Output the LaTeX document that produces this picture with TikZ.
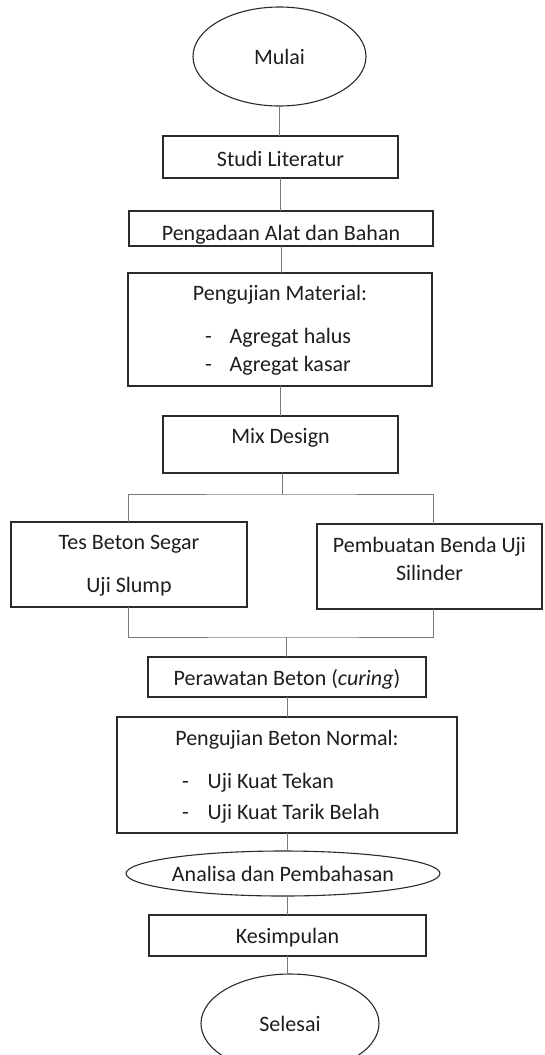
\documentclass[tikz,border=0pt]{standalone}
\usepackage{fontspec}
\setmainfont{Carlito}
\usepackage{tikz}
\usetikzlibrary{calc,positioning,shapes.geometric}
\definecolor{ink}{HTML}{1E1E1E}
\definecolor{edge}{HTML}{2B2B2B}
\definecolor{wire}{HTML}{7A7A7A}
\tikzset{
  font=\fontsize{22pt}{28pt}\selectfont,
  box/.style={
    draw=edge, line width=1.1pt, fill=white, text=ink,
    align=center, inner sep=0pt, outer sep=0pt
  },
  terminal/.style={ellipse, draw=edge, line width=1.1pt, fill=white, text=ink, inner sep=0pt, outer sep=0pt},
  link/.style={draw=wire, line width=0.9pt}
}

\begin{document}
\begin{tikzpicture}[node distance=30pt]
  \useasboundingbox (0,0) rectangle (544pt,-1055pt);

  \node[terminal, minimum width=173pt, minimum height=99pt] (mulai) at (279.5pt,-56.5pt) {Mulai};
  \node[box, minimum width=235pt, text height=30pt, text depth=12pt, below=30pt of mulai, xshift=1pt] (studi) {Studi Literatur};
  \node[box, minimum width=304pt, text height=29pt, text depth=6pt, below=33pt of studi, xshift=0.5pt] (pengadaan) {Pengadaan Alat dan Bahan};
  \node[box, minimum width=304pt, text height=98pt, text depth=15pt, below=27pt of pengadaan, xshift=-1pt] (material) {Pengujian Material:\\[15pt]\makebox[150pt][l]{-\hspace{18pt}Agregat halus}\\\makebox[150pt][l]{-\hspace{18pt}Agregat kasar}};
  \node[box, minimum width=235pt, text height=27pt, text depth=30pt, below=30pt of material, xshift=0.5pt] (mix) {Mix Design};

  \node[box, minimum width=236pt, text height=70pt, text depth=15pt, below=49pt of mix, xshift=-151.5pt] (tes) {Tes Beton Segar\\[15pt]Uji Slump};
  \node[box, minimum width=225pt, text height=56pt, text depth=29pt, below=51pt of mix, xshift=149pt] (silinder) {Pembuatan Benda Uji\\Silinder};

  \node[box, minimum width=278pt, text height=28pt, text depth=12pt, below=184pt of mix, xshift=6.5pt] (perawatan) {Perawatan Beton (\textit{curing})};
  \node[box, minimum width=340pt, text height=102pt, text depth=14pt, below=20pt of perawatan] (beton) {Pengujian Beton Normal:\\[15pt]\makebox[210pt][l]{-\hspace{19pt}Uji Kuat Tekan}\\[3pt]\makebox[210pt][l]{-\hspace{19pt}Uji Kuat Tarik Belah}};
  \node[terminal, minimum width=310pt, minimum height=45pt, below=18pt of beton, xshift=-4pt] (analisa) {Analisa dan Pembahasan};
  \node[box, minimum width=277pt, text height=28pt, text depth=13pt, below=19pt of analisa, xshift=4.5pt] (kesimpulan) {Kesimpulan};
  \node[terminal, minimum width=178pt, minimum height=99pt, below=18pt of kesimpulan, xshift=2.5pt] (selesai) {Selesai};

  \coordinate (split) at ($(mix.south)+(1.5pt,-21pt)$);
  \coordinate (join) at ($(perawatan.north)+(-1pt,20pt)$);

  \draw[link] (mulai.south) -- (mulai.south |- studi.north);
  \draw[link] (studi.south) -- (studi.south |- pengadaan.north);
  \draw[link] (pengadaan.south) -- (pengadaan.south |- material.north);
  \draw[link] (material.south) -- (material.south |- mix.north);
  \draw[link] (mix.south -| split) -- (split);
  \draw[link] ([xshift=-1pt]tes.north) |- (split) -| ([xshift=3.5pt]silinder.north);
  \draw[link] ([xshift=-1pt]tes.south) |- (join) -| ([xshift=3.5pt]silinder.south);
  \draw[link] (join) -- (join |- perawatan.north);
  \draw[link] (perawatan.south) -- (perawatan.south |- beton.north);
  \draw[link] (beton.south) -- (beton.south |- analisa.north);
  \draw[link] (kesimpulan.north |- analisa.south) -- (kesimpulan.north);
  \draw[link] (kesimpulan.south) -- (kesimpulan.south |- selesai.north);
\end{tikzpicture}
\end{document}
